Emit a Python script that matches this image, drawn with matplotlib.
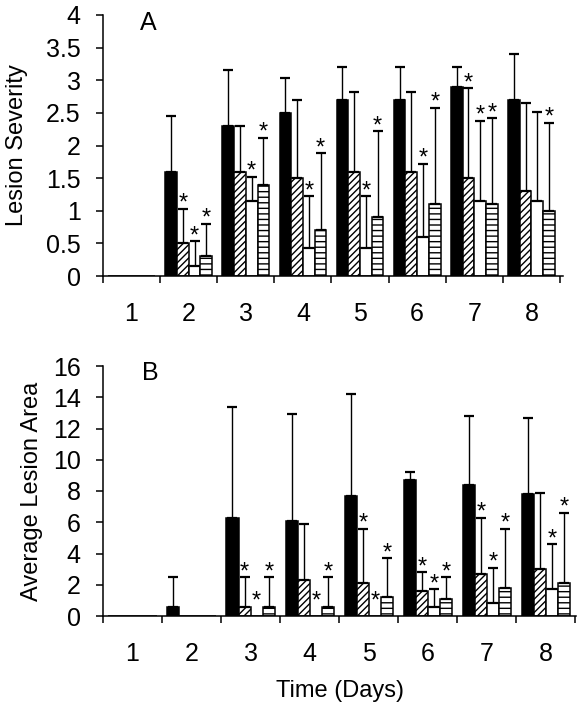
import matplotlib
matplotlib.use('Agg')
import matplotlib.pyplot as plt
import numpy as np

plt.rcParams['font.family'] = ['Liberation Sans', 'DejaVu Sans']
plt.rcParams['hatch.linewidth'] = 1.0

# ---------------- data ----------------
days = [1, 2, 3, 4, 5, 6, 7, 8]
day_labels = ['1', '2', '3', '4', '5', '6', '7', '8']

# Panel A: lesion severity (mean, SD) for four treatments
sevA_black = [0, 1.6, 2.3, 2.5, 2.7, 2.7, 2.9, 2.7]
sevA_black_sd = [0, 0.85, 0.85, 0.53, 0.5, 0.5, 0.3, 0.7]
sevA_hatch = [0, 0.5, 1.6, 1.5, 1.6, 1.6, 1.5, 1.3]
sevA_hatch_sd = [0, 0.53, 0.7, 1.2, 1.22, 1.22, 1.38, 1.35]
sevA_white = [0, 0.15, 1.15, 0.43, 0.43, 0.6, 1.15, 1.15]
sevA_white_sd = [0, 0.38, 0.37, 0.79, 0.79, 1.12, 1.23, 1.36]
sevA_stripe = [0, 0.3, 1.4, 0.7, 0.9, 1.1, 1.1, 1.0]
sevA_stripe_sd = [0, 0.5, 0.72, 1.18, 1.32, 1.48, 1.32, 1.35]
starsA_black = [0, 0, 0, 0, 0, 0, 0, 0]
starsA_hatch = [0, 1, 0, 0, 0, 0, 1, 0]
starsA_white = [0, 1, 1, 1, 1, 1, 1, 0]
starsA_stripe = [0, 1, 1, 1, 1, 1, 1, 1]

# Panel B: average lesion area (mean, SD)
areaB_black = [0, 0.6, 6.3, 6.1, 7.7, 8.7, 8.4, 7.8]
areaB_black_sd = [0, 1.9, 7.1, 6.8, 6.5, 0.5, 4.4, 4.9]
areaB_hatch = [0, 0, 0.6, 2.3, 2.1, 1.6, 2.7, 3.0]
areaB_hatch_sd = [0, 0, 1.9, 3.6, 3.5, 1.2, 3.6, 4.9]
areaB_white = [0, 0, 0, 0, 0, 0.6, 0.85, 1.7]
areaB_white_sd = [0, 0, 0, 0, 0, 1.1, 2.25, 2.9]
areaB_stripe = [0, 0, 0.6, 0.6, 1.2, 1.1, 1.8, 2.1]
areaB_stripe_sd = [0, 0, 1.9, 1.9, 2.5, 1.4, 3.8, 4.5]
starsB_black = [0, 0, 0, 0, 0, 0, 0, 0]
starsB_hatch = [0, 0, 1, 0, 1, 1, 1, 0]
starsB_white = [0, 0, 1, 1, 1, 1, 1, 1]
starsB_stripe = [0, 0, 1, 1, 1, 1, 1, 1]

yticksA = [0, 0.5, 1, 1.5, 2, 2.5, 3, 3.5, 4]
yticklabelsA = ['0', '0.5', '1', '1.5', '2', '2.5', '3', '3.5', '4']
yticksB = [0, 2, 4, 6, 8, 10, 12, 14, 16]
yticklabelsB = ['0', '2', '4', '6', '8', '10', '12', '14', '16']

FS_TICK = 18
FS_LAB = 17
FS_STAR = 17

fig = plt.figure(figsize=(5.83, 7.13), dpi=100)
W, H = 583, 713
axA = fig.add_axes([103 / W, 1 - 276 / H, 460 / W, 261 / H])
axB = fig.add_axes([103 / W, 1 - 616 / H, 473 / W, 250 / H])

styles = [
    dict(facecolor='black', edgecolor='black'),
    dict(facecolor='white', edgecolor='black', hatch='/////'),
    dict(facecolor='white', edgecolor='black'),
    dict(facecolor='white', edgecolor='black', hatch='---'),
]


def draw(ax, means_list, sds_list, stars_list, ylim, yticks, yticklabels, xmax,
         letter, letter_xy, ylabel, ylabel_x):
    width = 0.205
    x0 = np.array(days, dtype=float)
    offsets = (np.arange(4) - 1.5) * width
    for i in range(4):
        m = np.array(means_list[i], dtype=float)
        s = np.array(sds_list[i], dtype=float)
        x = x0 + offsets[i]
        ax.bar(x, m, width, linewidth=1.1, zorder=2, **styles[i])
        mask = s > 0
        if mask.any():
            ax.errorbar(x[mask], m[mask], yerr=[np.zeros(mask.sum()), s[mask]],
                        fmt='none', ecolor='black', elinewidth=1.0,
                        capsize=3.9, capthick=1.6, zorder=3)
        for xi, mi, si, st in zip(x, m, s, stars_list[i]):
            if st:
                top = mi + si
                off = 6.0 if (mi == 0 and si == 0) else -0.8
                ax.annotate('*', xy=(xi, top), xytext=(0, off),
                            textcoords='offset points', ha='center',
                            va='baseline', fontsize=FS_STAR, zorder=4)
    ax.set_xlim(0.5, xmax)
    ax.set_ylim(*ylim)
    ax.set_yticks(yticks)
    ax.set_yticklabels(yticklabels)
    ax.set_xticks(days)
    ax.set_xticklabels(day_labels)
    ax.set_xticks(np.arange(0.5, 9.0, 1.0), minor=True)
    ax.tick_params(axis='x', which='major', length=0, pad=19, labelsize=FS_TICK)
    ax.tick_params(axis='x', which='minor', length=5, width=1.1, direction='out')
    ax.tick_params(axis='y', which='major', length=5, width=1.1, direction='out',
                   pad=11, labelsize=FS_TICK)
    for sp in ['top', 'right']:
        ax.spines[sp].set_visible(False)
    for sp in ['left', 'bottom']:
        ax.spines[sp].set_linewidth(1.1)
    ax.text(letter_xy[0], letter_xy[1], letter, transform=ax.transAxes,
            ha='left', va='baseline', fontsize=FS_TICK)
    ax.set_ylabel(ylabel, fontsize=FS_LAB)
    ax.yaxis.set_label_coords(ylabel_x, 0.5)


draw(axA,
     [sevA_black, sevA_hatch, sevA_white, sevA_stripe],
     [sevA_black_sd, sevA_hatch_sd, sevA_white_sd, sevA_stripe_sd],
     [starsA_black, starsA_hatch, starsA_white, starsA_stripe],
     (0, 4), yticksA, yticklabelsA, 8.5 + 3 / 57.0,
     'A', (0.08, 0.9425), 'Lesion Severity', -0.162)

draw(axB,
     [areaB_black, areaB_hatch, areaB_white, areaB_stripe],
     [areaB_black_sd, areaB_hatch_sd, areaB_white_sd, areaB_stripe_sd],
     [starsB_black, starsB_hatch, starsB_white, starsB_stripe],
     (0, 16), yticksB, yticklabelsB, 8.5 + 0.5 / 59.0,
     'B', (0.082, 0.944), 'Average Lesion Area', -0.126)

axB.set_xlabel('Time (Days)', fontsize=FS_LAB)
axB.xaxis.set_label_coords(0.5, -0.255)

fig.savefig('out.png', dpi=100)
